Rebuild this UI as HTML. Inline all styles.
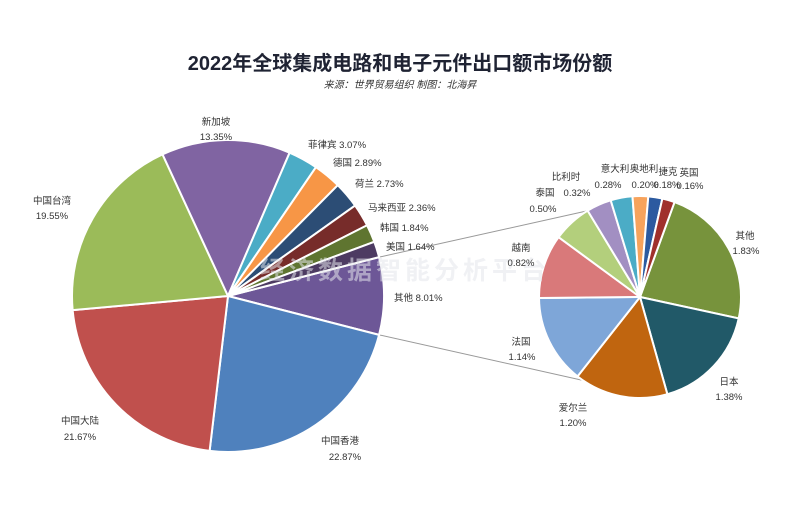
<!DOCTYPE html>
<html><head><meta charset="utf-8"><style>
html,body{margin:0;padding:0;background:#fff;}
svg{display:block;font-family:"Liberation Sans","Noto Sans CJK SC",sans-serif;}
</style></head><body>
<svg id="chart" width="797" height="526" viewBox="0 0 797 526">
<rect width="797" height="526" fill="#fff"/>
<text x="400" y="70" text-anchor="middle" font-size="20" font-weight="bold" fill="#1f2333">2022年全球集成电路和电子元件出口额市场份额</text>
<text x="400" y="88" text-anchor="middle" font-size="10" font-style="italic" fill="#333">来源：世界贸易组织 制图：北海昇</text>
<g id="lines"></g>
<g id="main"></g>
<g id="sub"></g>
<text x="405" y="279" text-anchor="middle" font-size="25" font-weight="bold" letter-spacing="4" fill="#e4e6ec" opacity="0.55">经济数据智能分析平台</text>
<g id="labels" font-size="9.5" fill="#333"></g>
</svg>
<script>
const mainNames = ["其他","中国香港","中国大陆","中国台湾","新加坡","菲律宾","德国","荷兰","马来西亚","韩国","美国"];
const mainValues = [8.01,22.87,21.67,19.55,13.35,3.07,2.89,2.73,2.36,1.84,1.64];
const mainColors = ["#6d5797","#4f81bd","#c0504d","#9bbb59","#8064a2","#4bacc6","#f79646","#2c4d75","#772c2a","#5f7530","#4d3b62"];
const subNames = ["其他","日本","爱尔兰","法国","越南","泰国","比利时","意大利","奥地利","捷克","英国"];
const subValues = [1.83,1.38,1.20,1.14,0.82,0.50,0.32,0.28,0.20,0.18,0.16];
const subColors = ["#77933c","#215968","#c0650f","#7ea6d8","#d9797a","#b3cf7c","#a28fc2","#4bacc6","#f7a35c","#2c5aa0","#a0302c"];
// label layout: [nameX,nameY,valueX,valueY] (valueX null = same line)
const mainLabelPos = [[394,301,null,0],[340,444,345,460],[80,424,80,440],[52,204,52,219],[216,125,216,140],[308,148,null,0],[333,166,null,0],[355,187,null,0],[368,211,null,0],[380,231,null,0],[386,250,null,0]];
const subLabelPos = [[745,239,746,254],[729,385,729,400],[573,411,573,426],[521,345,522,360],[521,251,521,266],[545,196,543,212],[566,180,577,196],[615,172,608,188],[644,172,645,188],[668,175,667,188],[689,176,690,189]];
const NS="http://www.w3.org/2000/svg";
function mk(t,a,p){const e=document.createElementNS(NS,t);for(const k in a)e.setAttribute(k,a[k]);p.appendChild(e);return e;}
function arc(cx,cy,r,a0,a1){const r0=a0*Math.PI/180,r1=a1*Math.PI/180;const large=(a1-a0)>180?1:0;
return `M${cx},${cy}L${cx+r*Math.cos(r0)},${cy+r*Math.sin(r0)}A${r},${r} 0 ${large} 1 ${cx+r*Math.cos(r1)},${cy+r*Math.sin(r1)}Z`;}
const MC={x:228,y:296,r:156}, SC={x:640,y:297,r:101};
const mTot=mainValues.reduce((a,b)=>a+b,0);
let a=-mainValues[0]/mTot*180;
const gm=document.getElementById('main');
mainValues.forEach((v,i)=>{const d=v/mTot*360;
 const p=mk('path',{d:arc(MC.x,MC.y,MC.r,a,a+d),fill:mainColors[i],stroke:'#fff','stroke-width':2},gm);
 
 
 a+=d;});
const sTot=subValues.reduce((a,b)=>a+b,0);
let b=-70;
const gs=document.getElementById('sub');
subValues.forEach((v,i)=>{const d=v/sTot*360;
 const p=mk('path',{d:arc(SC.x,SC.y,SC.r,b,b+d),fill:subColors[i],stroke:'#fff','stroke-width':2},gs);
 
 
 b+=d;});
const h=mainValues[0]/mTot*180*Math.PI/180;
const gl=document.getElementById('lines');
const l1=mk('line',{x1:MC.x+MC.r*Math.cos(-h),y1:MC.y+MC.r*Math.sin(-h),x2:600,y2:208,stroke:'#999','stroke-width':1},gl);


const l2=mk('line',{x1:MC.x+MC.r*Math.cos(h),y1:MC.y+MC.r*Math.sin(h),x2:590,y2:382,stroke:'#999','stroke-width':1},gl);


const glb=document.getElementById('labels');
function lab(name,val,pos,key){
 if(pos[2]===null){
  const t=mk('text',{x:pos[0],y:pos[1],'text-anchor':'start'},glb);
  
  
  t.textContent=name+' '+val.toFixed(2)+'%';
 } else {
  const t=mk('text',{x:pos[0],y:pos[1],'text-anchor':'middle'},glb);
  
  
  t.textContent=name;
  const u=mk('text',{x:pos[2],y:pos[3],'text-anchor':'middle'},glb);
  
  
  u.textContent=val.toFixed(2)+'%';
 }
}
mainValues.forEach((v,i)=>lab(mainNames[i],v,mainLabelPos[i],'main-label-'+i));
subValues.forEach((v,i)=>lab(subNames[i],v,subLabelPos[i],'sub-label-'+i));
</script>
</body></html>
